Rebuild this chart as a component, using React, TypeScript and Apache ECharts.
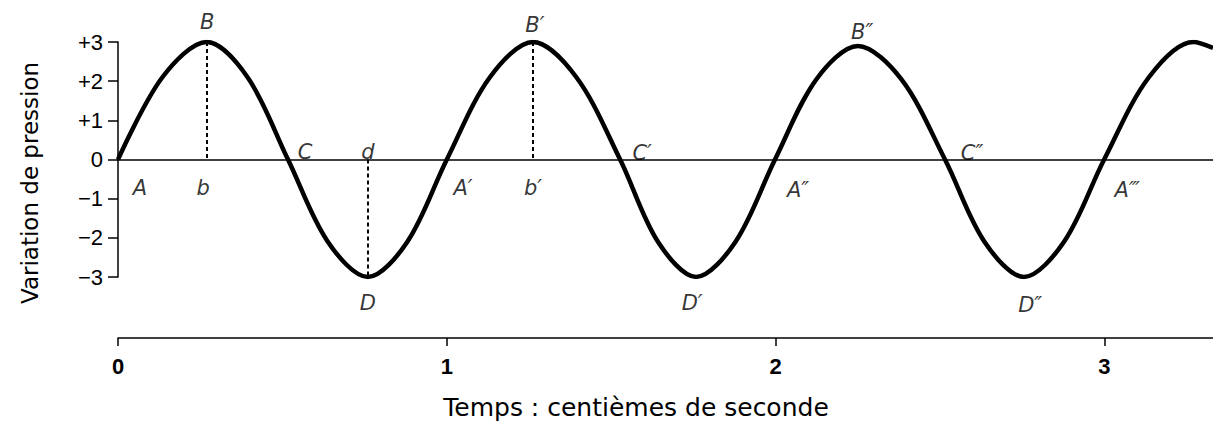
import React, { useEffect, useRef } from 'react';
import * as echarts from 'echarts';

// Curve: time (hundredths of a second) and pressure variation
const curveX = [0, 0.135, 0.27, 0.394, 0.517, 0.638, 0.76, 0.88, 1.0, 1.131, 1.262, 1.394, 1.527, 1.642, 1.758, 1.878, 1.998, 2.124, 2.25, 2.382, 2.515, 2.635, 2.755, 2.877, 2.999, 3.135, 3.27, 3.33];
const curveY = [0, 2.1, 3.0, 2.1, 0, -2.1, -3.0, -2.1, 0, 2.1, 3.0, 2.1, 0, -2.1, -3.0, -2.1, 0, 2.05, 2.9, 2.05, 0, -2.1, -3.0, -2.1, 0, 2.1, 3.0, 2.85];

const yTickValues = [-3, -2, -1, 0, 1, 2, 3];
const yTickLabels = ['\u22123', '\u22122', '\u22121', '0', '+1', '+2', '+3'];
const xTickValues = [0, 1, 2, 3];
const xTickLabels = ['0', '1', '2', '3'];

const pointNames = ['A', 'B', 'b', 'C', 'd', 'D', 'A\u2032', 'B\u2032', 'b\u2032', 'C\u2032', 'D\u2032', 'A\u2033', 'B\u2033', 'C\u2033', 'D\u2033', 'A\u2034'];
const pointX = [0.067, 0.271, 0.259, 0.569, 0.760, 0.760, 1.049, 1.268, 1.262, 1.594, 1.746, 2.068, 2.263, 2.597, 2.774, 3.069];
const pointY = [-0.73, 3.51, -0.73, 0.19, 0.19, -3.66, -0.73, 3.43, -0.73, 0.17, -3.66, -0.78, 3.25, 0.17, -3.71, -0.78];

const dropX = [0.27, 1.262, 0.76];
const dropFrom = [3.0, 3.0, 0];
const dropTo = [0, 0, -3.0];

const xTitle = 'Temps : centi\u00e8mes de seconde';
const yTitle = 'Variation de pression';

export default function App() {
  const ref = useRef<HTMLDivElement>(null);
  useEffect(() => {
    if (!ref.current) return;
    const chart = echarts.init(ref.current, null, { renderer: 'svg' });
    const tickFont = 'Liberation Sans, Arial, sans-serif';
    const nameFont = 'DejaVu Sans, sans-serif';
    chart.setOption({
      animation: false,
      backgroundColor: '#ffffff',
      grid: { left: 118, top: 42, width: 1095, height: 235, containLabel: false },
      xAxis: {
        type: 'value',
        min: 0,
        max: 3.33,
        interval: 1,
        offset: 61,
        axisLine: { onZero: false, lineStyle: { color: '#000', width: 1.5 } },
        axisTick: { length: 8, customValues: xTickValues, lineStyle: { color: '#000', width: 1.5 } },
        axisLabel: {
          customValues: xTickValues,
          formatter: (v: number) => xTickLabels[xTickValues.indexOf(Math.round(v))] ?? '',
          color: '#000',
          fontSize: 22,
          fontWeight: 'bold',
          fontFamily: tickFont,
          margin: 17,
        },
        splitLine: { show: false },
      },
      yAxis: {
        type: 'value',
        min: -3,
        max: 3,
        interval: 1,
        axisLine: { lineStyle: { color: '#000', width: 1.5 } },
        axisTick: { length: 10, lineStyle: { color: '#000', width: 1.5 } },
        axisLabel: {
          formatter: (v: number) => yTickLabels[yTickValues.indexOf(Math.round(v))] ?? '',
          color: '#000',
          fontSize: 22,
          fontFamily: tickFont,
          margin: 15,
        },
        splitLine: { show: false },
      },
      graphic: [
        {
          type: 'text',
          x: 30,
          y: 183,
          rotation: Math.PI / 2,
          style: {
            text: yTitle,
            fill: '#000',
            fontSize: 23,
            fontFamily: nameFont,
            align: 'center',
            verticalAlign: 'middle',
          },
        },
        {
          type: 'text',
          x: 636,
          y: 407,
          style: {
            text: xTitle,
            fill: '#000',
            fontSize: 25,
            fontFamily: nameFont,
            align: 'center',
            verticalAlign: 'middle',
          },
        },
      ],
      series: [
        {
          type: 'line',
          data: curveX.map((x, i) => [x, curveY[i]]),
          showSymbol: false,
          smooth: 0.33,
          lineStyle: { color: '#000', width: 4.5 },
          silent: true,
          z: 3,
          markLine: {
            silent: true,
            symbol: ['none', 'none'],
            label: { show: false },
            lineStyle: { color: '#000', width: 1.5, type: 'solid' },
            data: [{ yAxis: 0 }],
          },
        },
        {
          type: 'line',
          data: [],
          markLine: {
            silent: true,
            symbol: ['none', 'none'],
            label: { show: false },
            lineStyle: { color: '#000', width: 2, type: [4, 3] },
            data: dropX.map((x, i) => [{ coord: [x, dropFrom[i]] }, { coord: [x, dropTo[i]] }]),
          },
        },
        {
          type: 'scatter',
          clip: false,
          symbolSize: 0,
          silent: true,
          data: pointNames.map((n, i) => ({ name: n, value: [pointX[i], pointY[i]] })),
          label: {
            show: true,
            position: 'inside',
            formatter: '{b}',
            color: '#000',
            fontSize: 21,
            fontStyle: 'italic',
            fontFamily: nameFont,
          },
        },
      ],
    });
    return () => chart.dispose();
  }, []);
  return <div ref={ref} style={{ position: 'fixed', left: 0, top: 0, width: 1213, height: 427, background: '#fff' }} />;
}
